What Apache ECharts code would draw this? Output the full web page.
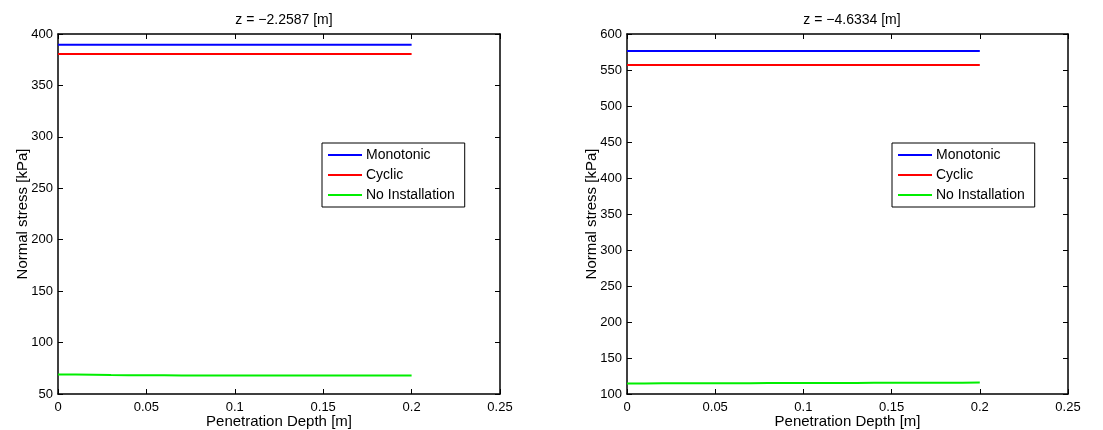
<!DOCTYPE html>
<html><head><meta charset="utf-8">
<script src="https://cdn.jsdelivr.net/npm/echarts@6/dist/echarts.min.js"></script>
<style>html,body{margin:0;padding:0;background:#fff}#c{width:1103px;height:430px}</style>
</head><body><div id="c"></div>
<script>
const depth = [0,0.01,0.02,0.03,0.04,0.05,0.06,0.07,0.08,0.09,0.1,0.11,0.12,0.13,0.14,0.15,0.16,0.17,0.18,0.19,0.2];
const titles = ['z = \u22122.2587 [m]', 'z = \u22124.6334 [m]'];
const seriesNames = ['Monotonic', 'Cyclic', 'No Installation'];
const xTicks = [0, 0.05, 0.1, 0.15, 0.2, 0.25];
const yTicksLeft = [50, 100, 150, 200, 250, 300, 350, 400];
const yTicksRight = [100, 150, 200, 250, 300, 350, 400, 450, 500, 550, 600];
// left panel (z = -2.2587)
const monoL = [389.6,389.6,389.6,389.6,389.6,389.6,389.6,389.6,389.6,389.6,389.6,389.6,389.6,389.6,389.6,389.6,389.6,389.6,389.6,389.6,389.6];
const cycL  = [380.6,380.6,380.6,380.6,380.6,380.6,380.6,380.6,380.6,380.6,380.6,380.6,380.6,380.6,380.6,380.6,380.6,380.6,380.6,380.6,380.6];
const noInL = [69.0,68.9,68.8,68.5,68.3,68.2,68.2,68.1,68.1,68.1,68.1,68.0,68.0,68.0,68.0,68.0,68.0,68.0,68.0,68.0,68.0];
// right panel (z = -4.6334)
const monoR = [576.4,576.4,576.4,576.4,576.4,576.4,576.4,576.4,576.4,576.4,576.4,576.4,576.4,576.4,576.4,576.4,576.4,576.4,576.4,576.4,576.4];
const cycR  = [557.0,557.0,557.0,557.0,557.0,557.0,557.0,557.0,557.0,557.0,557.0,557.0,557.0,557.0,557.0,557.0,557.0,557.0,557.0,557.0,557.0];
const noInR = [114.6,114.7,114.8,114.9,115.0,115.0,115.1,115.1,115.2,115.2,115.3,115.3,115.4,115.4,115.5,115.5,115.6,115.6,115.7,115.7,115.8];

const colors = ['#0000ff', '#ff0000', '#00ee00'];
const FONT = 'Liberation Sans, Arial, Helvetica, sans-serif';
const txt = {color:'#000', fontFamily: FONT, fontSize: 12};

const chart = echarts.init(document.getElementById('c'), null, {renderer:'canvas'});
const grids = [
  {left:58, right:603, top:34, bottom:36, containLabel:false, outerBoundsMode:'none'},
  {left:627, right:35, top:34, bottom:36, containLabel:false, outerBoundsMode:'none'}
];
const yRanges = [[yTicksLeft[0], yTicksLeft[yTicksLeft.length-1]], [yTicksRight[0], yTicksRight[yTicksRight.length-1]]];
const fmtX = v => String(+v.toFixed(2));
const axisLine = {show:true, onZero:false, lineStyle:{color:'#000', width:1.5}};
const xAxes = [], yAxes = [];
[0,1].forEach(g => {
  xAxes.push({type:'value', gridIndex:g, min:xTicks[0], max:xTicks[xTicks.length-1], interval:0.05, position:'bottom',
    name:'Penetration Depth [m]', nameLocation:'middle', nameGap:20, nameMoveOverlap:false, nameTextStyle:{...txt, fontSize:15},
    axisLine, axisTick:{show:true, inside:true, length:5, lineStyle:{color:'#000'}},
    axisLabel:{...txt, fontSize:13, margin:7, formatter:fmtX}, splitLine:{show:false}});
  xAxes.push({type:'value', gridIndex:g, min:xTicks[0], max:xTicks[xTicks.length-1], interval:0.05, position:'top',
    axisLine, axisTick:{show:true, inside:true, length:5, lineStyle:{color:'#000'}},
    axisLabel:{show:false}, splitLine:{show:false}});
  yAxes.push({type:'value', gridIndex:g, min:yRanges[g][0], max:yRanges[g][1], interval:50, position:'left',
    name:'Normal stress [kPa]', nameLocation:'middle', nameGap:28, nameMoveOverlap:false, nameTextStyle:{...txt, fontSize:15},
    axisLine, axisTick:{show:true, inside:true, length:5, lineStyle:{color:'#000'}},
    axisLabel:{...txt, fontSize:13, margin:5}, splitLine:{show:false}});
  yAxes.push({type:'value', gridIndex:g, min:yRanges[g][0], max:yRanges[g][1], interval:50, position:'right',
    axisLine, axisTick:{show:true, inside:true, length:5, lineStyle:{color:'#000'}},
    axisLabel:{show:false}, splitLine:{show:false}});
});
const dataSets = [[monoL, cycL, noInL], [monoR, cycR, noInR]];
const series = [];
[0,1].forEach(g => {
  dataSets[g].forEach((arr, i) => {
    series.push({type:'line', name:seriesNames[i], xAxisIndex:g*2, yAxisIndex:g*2,
      data: depth.map((d, k) => [d, arr[k]]), showSymbol:false, symbol:'none',
      lineStyle:{color:colors[i], width:2}, itemStyle:{color:colors[i]}, animation:false, silent:true});
  });
});
const legendCommon = {orient:'vertical', data:seriesNames, icon:'rect', itemWidth:34, itemHeight:2, itemGap:4,
  textStyle:{...txt, fontSize:14, lineHeight:16, padding:[0,0,0,-1]}, borderColor:'#000', borderWidth:1, backgroundColor:'#fff',
  padding:[4,10,4,6], selectedMode:false};
chart.setOption({
  animation:false,
  title:[
    {text:titles[0], left:279, top:8, textAlign:'center', textStyle:{...txt, fontWeight:'normal', fontSize:14}},
    {text:titles[1], left:847, top:8, textAlign:'center', textStyle:{...txt, fontWeight:'normal', fontSize:14}}
  ],
  grid: grids,
  xAxis: xAxes,
  yAxis: yAxes,
  legend:[
    {...legendCommon, left:322, top:143},
    {...legendCommon, left:892, top:143}
  ],
  series
});
</script></body></html>
